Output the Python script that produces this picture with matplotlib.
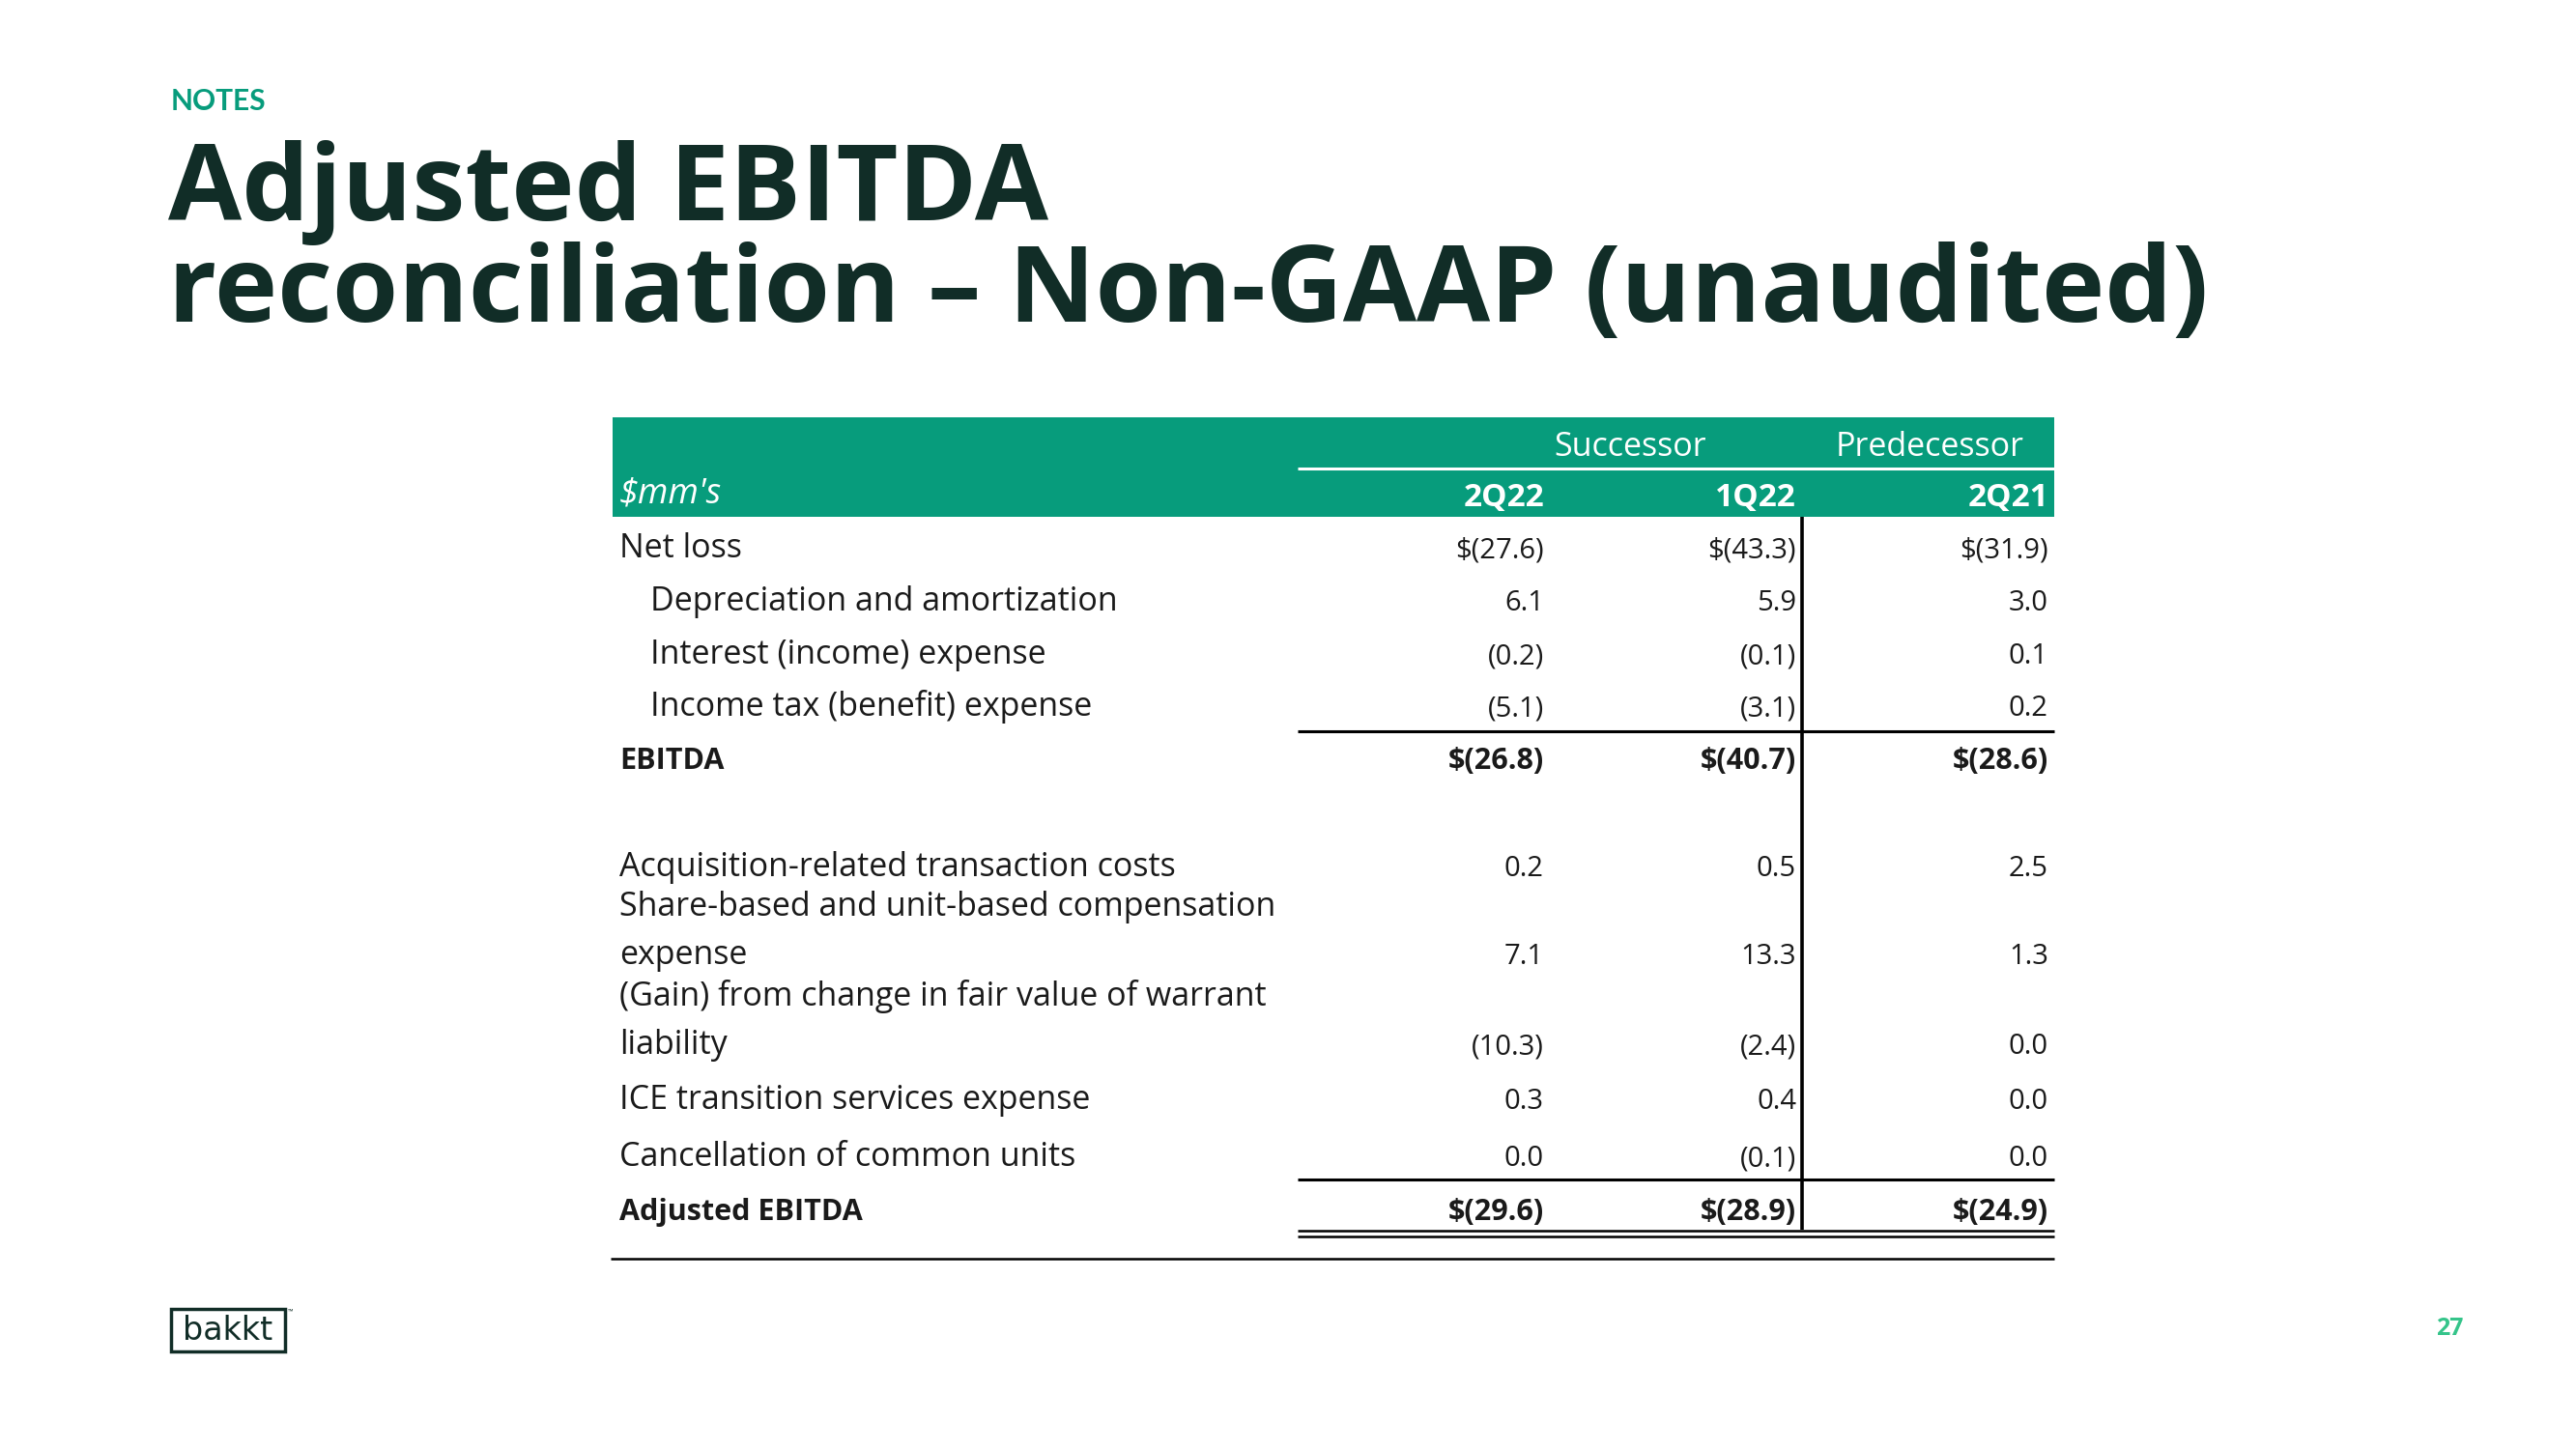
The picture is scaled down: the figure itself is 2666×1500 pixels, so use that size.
import matplotlib
matplotlib.use("Agg")
import matplotlib.pyplot as plt
from matplotlib.patches import Rectangle

# ---------------- data ----------------
row_labels = [
    "Net loss",
    "Depreciation and amortization",
    "Interest (income) expense",
    "Income tax (benefit) expense",
    "EBITDA",
    "Acquisition-related transaction costs",
    "Share-based and unit-based compensation\nexpense",
    "(Gain) from change in fair value of warrant\nliability",
    "ICE transition services expense",
    "Cancellation of common units",
    "Adjusted EBITDA",
]
row_indent = [False, True, True, True, False, False, False, False, False, False, False]
row_bold = [False, False, False, False, True, False, False, False, False, False, True]
row_dollar = [True, False, False, False, True, False, False, False, False, False, True]

periods = ["2Q22", "1Q22", "2Q21"]
groups = ["Successor", "Predecessor"]
vals_2q22 = [-27.6, 6.1, -0.2, -5.1, -26.8, 0.2, 7.1, -10.3, 0.3, 0.0, -29.6]
vals_1q22 = [-43.3, 5.9, -0.1, -3.1, -40.7, 0.5, 13.3, -2.4, 0.4, -0.1, -28.9]
vals_2q21 = [-31.9, 3.0, 0.1, 0.2, -28.6, 2.5, 1.3, 0.0, 0.0, 0.0, -24.9]
columns = [vals_2q22, vals_1q22, vals_2q21]

# ---------------- layout ----------------
W, H = 2666, 1500
GREEN = "#079C7C"
DARK = "#112D27"
TXT = "#1A1A1A"
FONT = ["Open Sans", "DejaVu Sans"]

fig = plt.figure(figsize=(W / 100, H / 100), dpi=100)
ax = fig.add_axes([0, 0, 1, 1])
ax.set_xlim(0, W)
ax.set_ylim(H, 0)
ax.axis("off")

def fmt(v, dollar):
    s = f"{abs(v):.1f}"
    if v < 0:
        s = f"({s})"
    if dollar:
        s = "$" + s
    return s

# Header texts
ax.text(177, 114, "NOTES", color=GREEN, fontsize=21.5, fontweight="bold",
        family=["Lato", "DejaVu Sans"], ha="left", va="baseline")
ax.text(174, 228, "Adjusted EBITDA", color=DARK, fontsize=79.5, fontweight="bold",
        family=FONT, ha="left", va="baseline")
ax.text(174, 333, "reconciliation \u2013 Non-GAAP (unaudited)", color=DARK, fontsize=79.5,
        fontweight="bold", family=FONT, ha="left", va="baseline")

# Table geometry
tab_left, tab_right = 634, 2126
num_left = 1343
col_right = [1598, 1859, 2120]
label_x, indent_x = 641, 673
vline_x = 1865
LAB_FS = 24.5
LAB_FS_B = 22
NUM_FS = 21
NUM_FS_B = 22

ax.add_patch(Rectangle((tab_left, 432), tab_right - tab_left, 103,
                       facecolor=GREEN, edgecolor="none"))
ax.plot([num_left, tab_right], [485, 485], color="white", lw=2.2, solid_capstyle="butt")
ax.text(1687, 472, groups[0], color="white", fontsize=24.5, family=FONT,
        ha="center", va="baseline")
ax.text(1997, 472, groups[1], color="white", fontsize=24.5, family=FONT,
        ha="center", va="baseline")
ax.text(label_x, 521, "$mm's", color="white", fontsize=26, style="italic",
        family=FONT, ha="left", va="baseline")
for cx, p in zip(col_right, periods):
    ax.text(cx, 524, p, color="white", fontsize=24, fontweight="bold",
            family=FONT, ha="right", va="baseline")

# Row baselines (label line(s), values at last line)
row_base = [577, 632, 687, 741, 796, 907, (948, 998), (1041, 1091), 1148, 1207, 1263]

for i, lab in enumerate(row_labels):
    b = row_base[i]
    lines = lab.split("\n")
    bases = list(b) if isinstance(b, tuple) else [b]
    x = indent_x if row_indent[i] else label_x
    wt = "bold" if row_bold[i] else "normal"
    lfs = LAB_FS_B if row_bold[i] else LAB_FS
    for ln, yb in zip(lines, bases):
        ax.text(x, yb, ln, color=TXT, fontsize=lfs, fontweight=wt,
                family=FONT, ha="left", va="baseline")
    nfs = NUM_FS_B if row_bold[i] else NUM_FS
    for cx, col in zip(col_right, columns):
        ax.text(cx, bases[-1], fmt(col[i], row_dollar[i]), color=TXT,
                fontsize=nfs, fontweight=wt, family=FONT, ha="right", va="baseline")

# Rules
ax.plot([num_left, tab_right], [757, 757], color="black", lw=2.2, solid_capstyle="butt")
ax.plot([num_left, tab_right], [1221, 1221], color="black", lw=2.2, solid_capstyle="butt")
ax.plot([num_left, tab_right], [1274, 1274], color="black", lw=1.8, solid_capstyle="butt")
ax.plot([num_left, tab_right], [1279.5, 1279.5], color="black", lw=1.8, solid_capstyle="butt")
ax.plot([tab_left - 2, tab_right], [1303, 1303], color="black", lw=1.8, solid_capstyle="butt")
ax.plot([vline_x, vline_x], [535, 1273], color="black", lw=2.6, solid_capstyle="butt")

# Logo
ax.add_patch(Rectangle((177, 1355), 118, 44, facecolor="none", edgecolor=DARK, lw=2.5))
ax.text(236, 1387, "bakkt", color=DARK, fontsize=24, family=["DejaVu Sans"],
        ha="center", va="baseline")
ax.text(298, 1360, "\u2122", color=DARK, fontsize=5, family=FONT,
        ha="left", va="baseline")

# Page number
ax.text(2535, 1382, "27", color="#35C48A", fontsize=18, fontweight="bold",
        family=FONT, ha="center", va="baseline")

fig.savefig("out.png", dpi=100, facecolor="white")
